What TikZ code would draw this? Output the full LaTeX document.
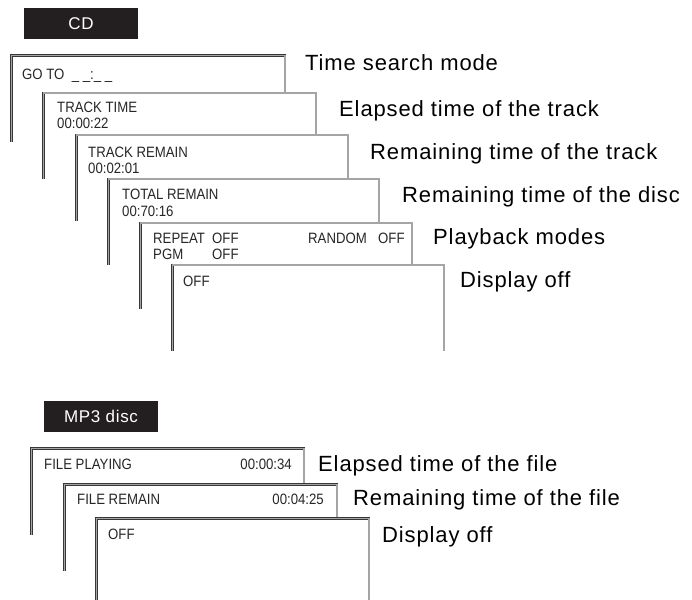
\documentclass[tikz,border=0pt]{standalone}
\usepackage{fontspec}
\setmainfont{Liberation Sans}
\newfontfamily\lcdfont[FakeStretch=0.88]{Liberation Sans}
\newfontfamily\capfont[LetterSpace=4]{Liberation Sans}
\usetikzlibrary{positioning}
\definecolor{Tag}{RGB}{35, 31, 32}
\definecolor{Rim}{RGB}{55, 55, 55}
\definecolor{RimFill}{RGB}{165, 165, 165}

\begin{document}
\begin{tikzpicture}[x=1pt,y=-1pt,
    frameline/.style={draw=Rim,line width=0.75pt,double=RimFill,double distance=1.3pt},
    tagbox/.style={fill=Tag,text=white,minimum width=114pt,minimum height=31pt,inner sep=0pt,
      font=\capfont\fontsize{17}{17}\selectfont},
    lcd/.style={anchor=base west,inner sep=0pt,text=black!85,font=\lcdfont\fontsize{15}{15}\selectfont},
    lcdright/.style={lcd,anchor=base east},
    caption/.style={anchor=base west,inner sep=0pt,font=\capfont\fontsize{22}{22}\selectfont}]
        \useasboundingbox (0,0) rectangle (692,599);
        % CD screens
        \node[tagbox] (cdTag) at (81,23.5) {CD};
        \foreach \fl/\ft/\fr in {11.5/55.5/285,43.5/93/316,76.5/135/348,108.5/179/379,140.5/223/412,172.5/265/444} {
          \fill[white] (\fl,\ft) rectangle (\fr,\ft+86);
          \draw[frameline] (\fl,\ft+86) -- (\fl,\ft) -- (\fr,\ft) -- (\fr,\ft+86);
        }
        \node[lcd] (gotoTxt) at (22,80) {GO TO\ \ \_ \_:\_ \_};
        \node[lcd] (ttTxt) at (57,113) {TRACK TIME};
        \node[lcd] (ttVal) at (57,128.5) {00:00:22};
        \node[lcd] (trTxt) at (88,157) {TRACK REMAIN};
        \node[lcd] (trVal) at (88,173) {00:02:01};
        \node[lcd] (toTxt) at (122,199) {TOTAL REMAIN};
        \node[lcd] (toVal) at (122,216.5) {00:70:16};
        \node[lcd] (rpTxt) at (153,243) {REPEAT};
        \node[lcd] (rpVal) at (212,243) {OFF};
        \node[lcd] (pgTxt) at (153,259.5) {PGM};
        \node[lcd] (pgVal) at (212,259.5) {OFF};
        \node[lcd] (rdTxt) at (308,243) {RANDOM};
        \node[lcd] (rdVal) at (378,243) {OFF};
        \node[lcd] (offTxt) at (183,286) {OFF};
        \node[caption] (capSearch) at (305,71) {Time search mode};
        \node[caption] (capElapsed) at (339,116) {Elapsed time of the track};
        \node[caption] (capTrackLeft) at (370,159) {Remaining time of the track};
        \node[caption] (capDiscLeft) at (402,202.5) {Remaining time of the disc};
        \node[caption] (capModes) at (433,244) {Playback modes};
        \node[caption] (capOff) at (460,287) {Display off};
        % MP3 screens
        \node[tagbox] (mpTag) at (101,416.5) {MP3 disc};
        \foreach \fl/\ft/\fr in {31.5/448.5/304,64.5/484.5/337,96.5/518.5/369} {
          \fill[white] (\fl,\ft) rectangle (\fr,\ft+86);
          \draw[frameline] (\fl,\ft+86) -- (\fl,\ft) -- (\fr,\ft) -- (\fr,\ft+86);
        }
        \node[lcd] (fpTxt) at (44,469) {FILE PLAYING};
        \node[lcdright] (fpVal) at (292,469) {00:00:34};
        \node[lcd] (frTxt) at (77,504) {FILE REMAIN};
        \node[lcdright] (frVal) at (324,504) {00:04:25};
        \node[lcd] (mpOffTxt) at (108,539) {OFF};
        \node[caption] (capFileElapsed) at (318,471) {Elapsed time of the file};
        \node[caption] (capFileLeft) at (353,505) {Remaining time of the file};
        \node[caption] (capFileOff) at (382,542) {Display off};
      \end{tikzpicture}
\end{document}
